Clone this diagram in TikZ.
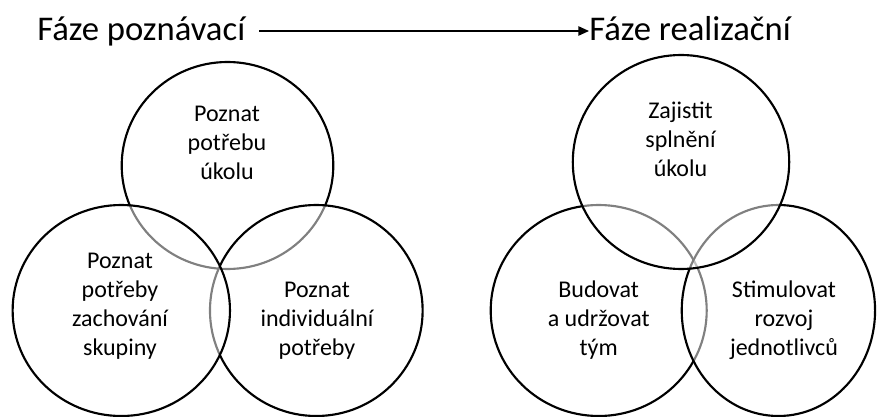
\documentclass[tikz,border=0pt]{standalone}
\usepackage{fontspec}
\setmainfont{Carlito}
\usetikzlibrary{shapes.geometric,arrows.meta}
\begin{document}
\begin{tikzpicture}[x=0.75pt,y=-0.75pt,
  ring/.style={ellipse, draw=black, line width=1.6pt, fill=white, fill opacity=0.5, inner sep=0pt},
  circletext/.style={font=\fontsize{18}{21.7}\selectfont, align=center, anchor=base, inner sep=0pt},
  phase/.style={font=\fontsize{26}{31}\selectfont, anchor=base west, inner sep=0pt},
  phasearrow/.style={line width=1.2pt, -{Triangle[length=8pt,width=7pt]}}]
\useasboundingbox (0,0) rectangle (877,417);

% phase headings and the arrow between them
\node[phase] (recognise) at (37,41) {Fáze poznávací};
\node[phase] (realise) at (589,41) {Fáze realizační};
\coordinate (arrowStart) at (259,31);
\draw[phasearrow] (arrowStart) -- (realise.west |- arrowStart);

% recognition phase: three overlapping rings (drawing order sets the grey arcs)
\node[ring, minimum width=158.7pt, minimum height=155.25pt] (needTask) at (227.5,165.5) {};
\node[ring, minimum width=159.5pt, minimum height=158.25pt] (needInd) at (316.3,310.5) {};
\node[ring, minimum width=163pt, minimum height=158.25pt] (needGroup) at (121.3,310.5) {};

% realisation phase
\node[ring, minimum width=162pt, minimum height=158.25pt] (team) at (598.7,310.5) {};
\node[ring, minimum width=145pt, minimum height=158.25pt] (growth) at (778.4,310.5) {};
\node[ring, minimum width=162.3pt, minimum height=160.5pt] (task) at (681,162) {};

% ring captions
\node[circletext] (needTaskText) at (227,179.3) {Poznat\\potřebu\\úkolu};
\node[circletext] (needGroupText) at (120,355) {Poznat\\potřeby\\zachování\\skupiny};
\node[circletext] (needIndText) at (317,355) {Poznat\\individuální\\potřeby};
\node[circletext] (taskText) at (680.5,176) {Zajistit\\splnění\\úkolu};
\node[circletext] (teamText) at (598.7,355.7) {Budovat\\a udržovat\\tým};
\node[circletext] (growthText) at (784,355.7) {Stimulovat\\rozvoj\\jednotlivců};
\end{tikzpicture}
\end{document}
